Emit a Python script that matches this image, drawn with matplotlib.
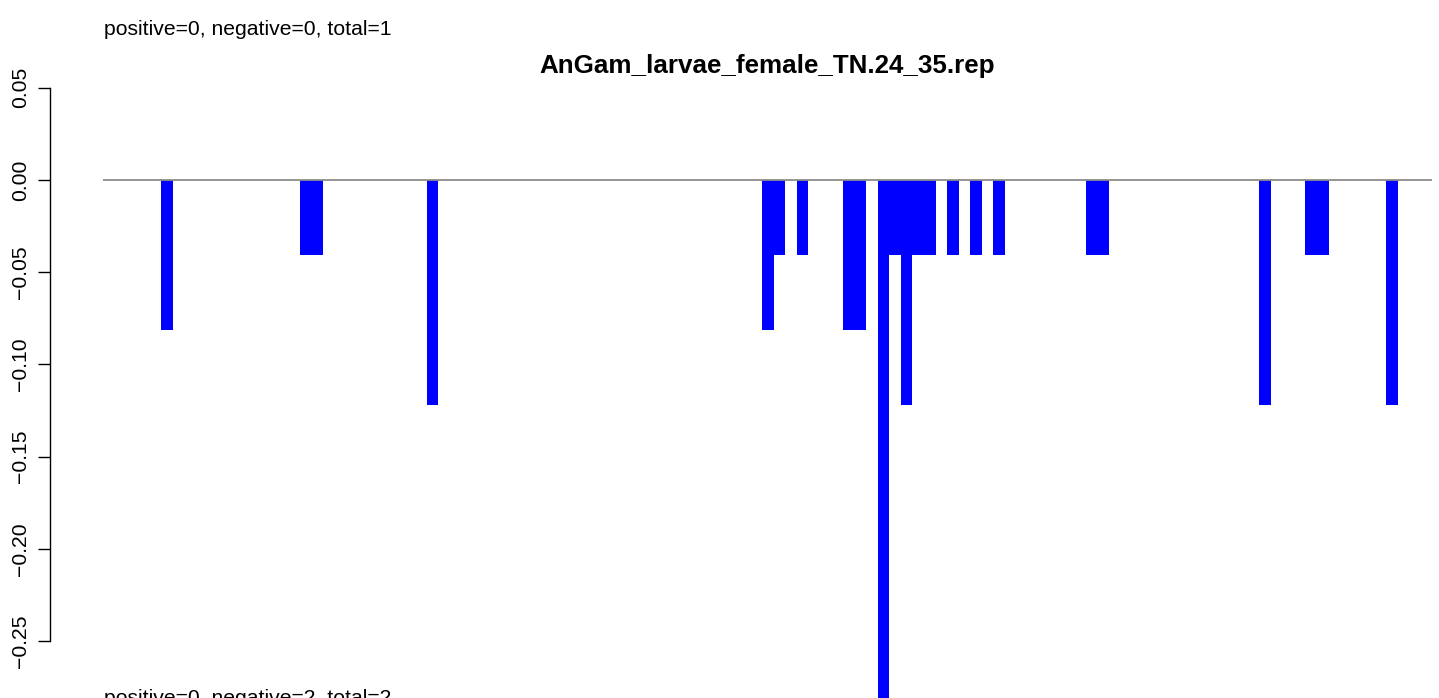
import matplotlib.pyplot as plt
import matplotlib.ticker as mticker

# Данные: номер позиции и значение столбца
positions = [0, 12, 13, 23, 52, 53, 55, 59, 60, 62, 63, 64, 65, 66,
             68, 70, 72, 80, 81, 95, 99, 100, 106]
values = [-0.0813, -0.0407, -0.0407, -0.122, -0.0813, -0.0407, -0.0407,
          -0.0813, -0.0813, -0.285, -0.0407, -0.122, -0.0407, -0.0407,
          -0.0407, -0.0407, -0.0407, -0.0407, -0.0407, -0.122, -0.0407,
          -0.0407, -0.122]
yticks = [0.05, 0.0, -0.05, -0.10, -0.15, -0.20, -0.25]

title = 'AnGam_larvae_female_TN.24_35.rep'
top_note = 'positive=0, negative=0, total=1'
bottom_note = 'positive=0, negative=2, total=2'

plt.rcParams['font.family'] = ['Liberation Sans', 'DejaVu Sans']

W, H = 1439, 698
fig = plt.figure(figsize=(W / 100, H / 100), dpi=100)

# Область графика (в пикселях исходной картинки)
left_px, right_px = 103, 1432
top_px, bot_px = 74.8, 770.0
ax = fig.add_axes([left_px / W, 1 - bot_px / H,
                   (right_px - left_px) / W, (bot_px - top_px) / H])

ax.bar(positions, values, width=1, align='edge', color='#0000ff',
       linewidth=0, zorder=2)
ax.axhline(0, color='#8c8c8c', lw=1.3, zorder=3)

ax.set_xlim(-5.02, 109.95)
ax.set_ylim(-0.32, 0.057)

for s in ['top', 'right', 'bottom']:
    ax.spines[s].set_visible(False)
ax.spines['left'].set_bounds(-0.25, 0.05)
ax.spines['left'].set_position(('outward', 38))
ax.spines['left'].set_linewidth(1.0)
ax.set_xticks([])
ax.set_yticks(yticks)
ax.yaxis.set_major_formatter(mticker.FuncFormatter(
    lambda v, p: ('%.2f' % v).replace('-', '\u2212')))
ax.tick_params(axis='y', length=8.6, width=1.0, pad=6, labelsize=15.2)
for lab in ax.get_yticklabels():
    lab.set_rotation(90)
    lab.set_va('center')

fig.text(767 / W, 1 - 73 / H, title, ha='center', va='baseline',
         fontsize=18.7, fontweight='bold')
fig.text(104 / W, 1 - 35 / H, top_note, ha='left', va='baseline', fontsize=15.2)
fig.text(104 / W, 1 - 689 / H, bottom_note, ha='left', va='top', fontsize=15.2)

plt.savefig('out.png', dpi=100)
